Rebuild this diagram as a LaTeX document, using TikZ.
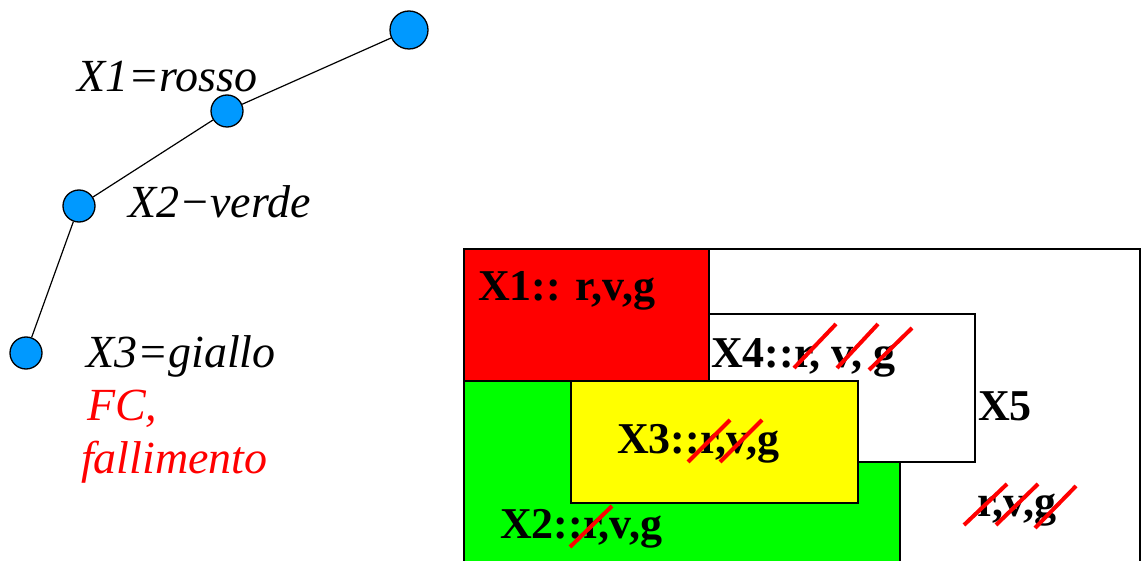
\documentclass[tikz,border=0pt]{standalone}
\usepackage{fontspec}
\setmainfont{Liberation Serif}
\definecolor{dotblue}{RGB}{0,153,255}
\definecolor{boxred}{RGB}{255,0,0}
\definecolor{boxgreen}{RGB}{0,255,0}
\definecolor{boxyellow}{RGB}{255,255,0}
\begin{document}
\begin{tikzpicture}[x=1pt,y=-1pt,
  dot/.style={circle,draw=black,line width=1.3pt,fill=dotblue,inner sep=0pt,minimum size=32pt},
  link/.style={line width=1.2pt},
  lefttext/.style={anchor=base west,inner sep=0pt,font=\fontsize{46}{52}\selectfont\itshape},
  boxtext/.style={anchor=base west,inner sep=0pt,font=\fontsize{44}{50}\selectfont\bfseries},
  region/.style={draw=black,line width=2pt},
  strike/.style={draw=red,line width=4pt}]
\useasboundingbox (0,0) rectangle (1142,561);
\clip (0,0) rectangle (1142,561);
% tree
\node[dot,minimum size=38pt] (n0) at (409,30) {};
\node[dot] (n1) at (227,111) {};
\node[dot] (n2) at (79,206) {};
\node[dot] (n3) at (26,353) {};
\draw[link] (n0) -- (n1);
\draw[link] (n1) -- (n2);
\draw[link] (n2) -- (n3);
\node[lefttext] (t1) at (77,92) {X1=rosso};
\node[lefttext] (t2) at (128,218) {X2−verde};
\node[lefttext] (t3) at (86,367) {X3=giallo};
\node[lefttext,text=red] (t4) at (87,420) {FC,};
\node[lefttext,text=red] (t5) at (81,473) {fallimento};
% regions
\draw[region,line width=1.5pt,fill=white] (464,249) rectangle (1140,580);
\draw[region,fill=boxgreen] (464,381) rectangle (900,580);
\draw[region,fill=white] (709,314) rectangle (975,462);
\draw[region,fill=boxred] (464,249) rectangle (709,381);
\draw[region,fill=boxyellow] (571,381) rectangle (858,503);
% labels
\node[boxtext] (l1) at (478,300) {X1:: r,v,g};
\node[boxtext] (l4) at (711,367) {X4::r, v, g};
\node[boxtext] (l5) at (978,420) {X5};
\node[boxtext] (l3) at (617,453) {X3::r,v,g};
\node[boxtext] (l2) at (500,538) {X2::r,v,g};
\node[boxtext] (l6) at (977,516) {r,v,g};
% strikes
\draw[strike] (794,368) -- (836,324);
\draw[strike] (837,368) -- (878,324);
\draw[strike] (869,370) -- (912,328);
\draw[strike] (688,462) -- (730,420);
\draw[strike] (720,462) -- (762,420);
\draw[strike] (570,547) -- (612,506);
\draw[strike] (964,525) -- (1007,484);
\draw[strike] (996,525) -- (1038,484);
\draw[strike] (1035,528) -- (1076,486);
\end{tikzpicture}
\end{document}
